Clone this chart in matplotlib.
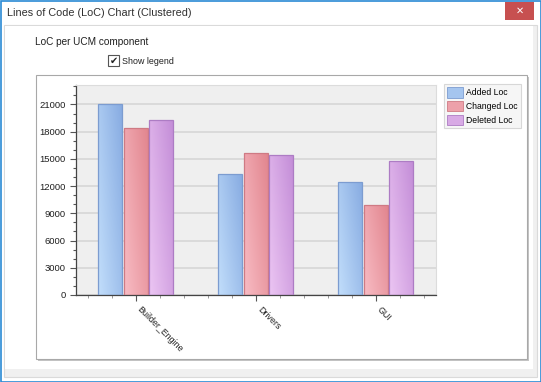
import numpy as np
import matplotlib
matplotlib.use("Agg")
import matplotlib.pyplot as plt
from matplotlib.patches import Rectangle
from matplotlib.colors import LinearSegmentedColormap, to_rgb

# data
components = ["Builder_Engine", "Drivers", "GUI"]
added_loc = [21000, 13350, 12500]
changed_loc = [18450, 15700, 9900]
deleted_loc = [19300, 15400, 14800]
series_names = ["Added Loc", "Changed Loc", "Deleted Loc"]

# (light, dark, edge) per series
series_colors = [
    ("#c2defb", "#88ace2", "#7c9cd0"),
    ("#f8bcc4", "#e2868f", "#cf7a84"),
    ("#ecc6f3", "#c48ed8", "#ad7cc4"),
]

W, H = 541, 382
plt.rcParams["font.family"] = ["Liberation Sans", "DejaVu Sans"]

fig = plt.figure(figsize=(W / 100, H / 100), dpi=100)
fig.patch.set_facecolor("white")


def frac(x, y, w, h):
    # pixel box (top-left origin) -> figure fractions
    return [x / W, 1 - (y + h) / H, w / W, h / H]


def box(x, y, w, h, **kw):
    l, b, ww, hh = frac(x, y, w, h)
    fig.add_artist(Rectangle((l, b), ww, hh, transform=fig.transFigure,
                             zorder=-5, **kw))


# window chrome
box(0.5, 0.5, W - 1, H - 1, facecolor="white", edgecolor="#2a8ad4", lw=1.2)
box(4, 25, 533, 352, facecolor="#f0f0f0", edgecolor="#dadada", lw=0.8)
box(5, 26, 528, 343, facecolor="white", edgecolor="none")
box(505, 2, 29, 18, facecolor="#c75050", edgecolor="none")
fig.text(519.5 / W, 1 - 11 / H, "\u2715", color="white", fontsize=7,
         ha="center", va="center", family=["DejaVu Sans"], weight="bold")
fig.text(7 / W, 1 - 13 / H, "Lines of Code (LoC) Chart (Clustered)",
         fontsize=7.8, color="#303030", va="center")
fig.text(35 / W, 1 - 42 / H, "LoC per UCM component", fontsize=7.2,
         color="#202020", va="center")
box(108, 55, 11, 11, facecolor="white", edgecolor="#555555", lw=0.8)
fig.text(113.5 / W, 1 - 61 / H, "\u2714", fontsize=7, ha="center", va="center",
         family=["DejaVu Sans"], color="#222222")
fig.text(122 / W, 1 - 61 / H, "Show legend", fontsize=6.4, color="#202020",
         va="center")

# chart frame with a small shadow
box(38, 77, 491, 284, facecolor="#c4c4c4", edgecolor="none")
box(36, 75, 491, 284, facecolor="white", edgecolor="#a8a8a8", lw=0.8)

ax = fig.add_axes(frac(75.5, 84.5, 360, 210.5))
ax.set_facecolor("#efefef")

x = np.arange(len(components))
step = 0.21
width = 0.2
values = [added_loc, changed_loc, deleted_loc]

yy, xx = np.mgrid[0:1:64j, 0:1:64j]
grad = 0.6 * xx + 0.4 * yy  # light at bottom-left, dark at top-right

for i, (vals, (light, dark, edge)) in enumerate(zip(values, series_colors)):
    cmap = LinearSegmentedColormap.from_list("g%d" % i, [light, dark])
    bars = ax.bar(x + (i - 1) * step, vals, width, facecolor="none",
                  edgecolor=edge, lw=0.9, zorder=3)
    for b in bars:
        img = ax.imshow(grad, cmap=cmap, origin="lower", aspect="auto",
                        extent=(b.get_x(), b.get_x() + b.get_width(),
                                0, b.get_height()), zorder=2,
                        interpolation="bilinear")
        img.set_clip_path(b)
ax.set_xlim(-0.5, len(components) - 0.5)
ax.set_ylim(0, 23200)

# axes styling
ax.set_yticks(np.arange(0, 21001, 3000))
ax.set_yticks(np.arange(0, 23001, 1000), minor=True)
ax.set_xticks(x)
ax.set_xticks(np.arange(-0.4, 2.5, 0.2), minor=True)
ax.set_xticklabels(components, rotation=-45, ha="left", va="top",
                   fontsize=6.4, color="#202020")
ax.tick_params(axis="y", labelsize=6.8, labelcolor="#202020", length=4,
               width=0.8, color="#555555", pad=3)
ax.tick_params(axis="y", which="minor", length=2, width=0.8, color="#555555")
ax.tick_params(axis="x", length=4, width=0.8, color="#555555", pad=3)
ax.tick_params(axis="x", which="minor", length=2, width=0.6, color="#888888")
ax.grid(axis="y", which="major", color="#d8d8d8", lw=1.3, zorder=1)
ax.set_axisbelow(True)
for side in ["top", "right"]:
    ax.spines[side].set_color("#dcdcdc")
    ax.spines[side].set_linewidth(0.8)
ax.spines["left"].set_color("#444444")
ax.spines["bottom"].set_color("#444444")
ax.spines["left"].set_linewidth(0.9)
ax.spines["bottom"].set_linewidth(0.9)

handles = [Rectangle((0, 0), 1, 1,
                     facecolor=tuple((np.array(to_rgb(c[0])) + np.array(to_rgb(c[1]))) / 2),
                     edgecolor=c[2], lw=0.6) for c in series_colors]
leg = fig.legend(handles, series_names, loc="upper left",
                 bbox_to_anchor=(444 / W, 1 - 84 / H), fontsize=6.2,
                 frameon=True, fancybox=False, handlelength=1.9,
                 handleheight=1.5, handletextpad=0.3, borderpad=0.35,
                 labelspacing=0.4, borderaxespad=0)
leg.get_frame().set_edgecolor("#cfcfcf")
leg.get_frame().set_facecolor("#f4f4f4")
leg.get_frame().set_linewidth(0.8)

fig.savefig("out.png", dpi=100)
